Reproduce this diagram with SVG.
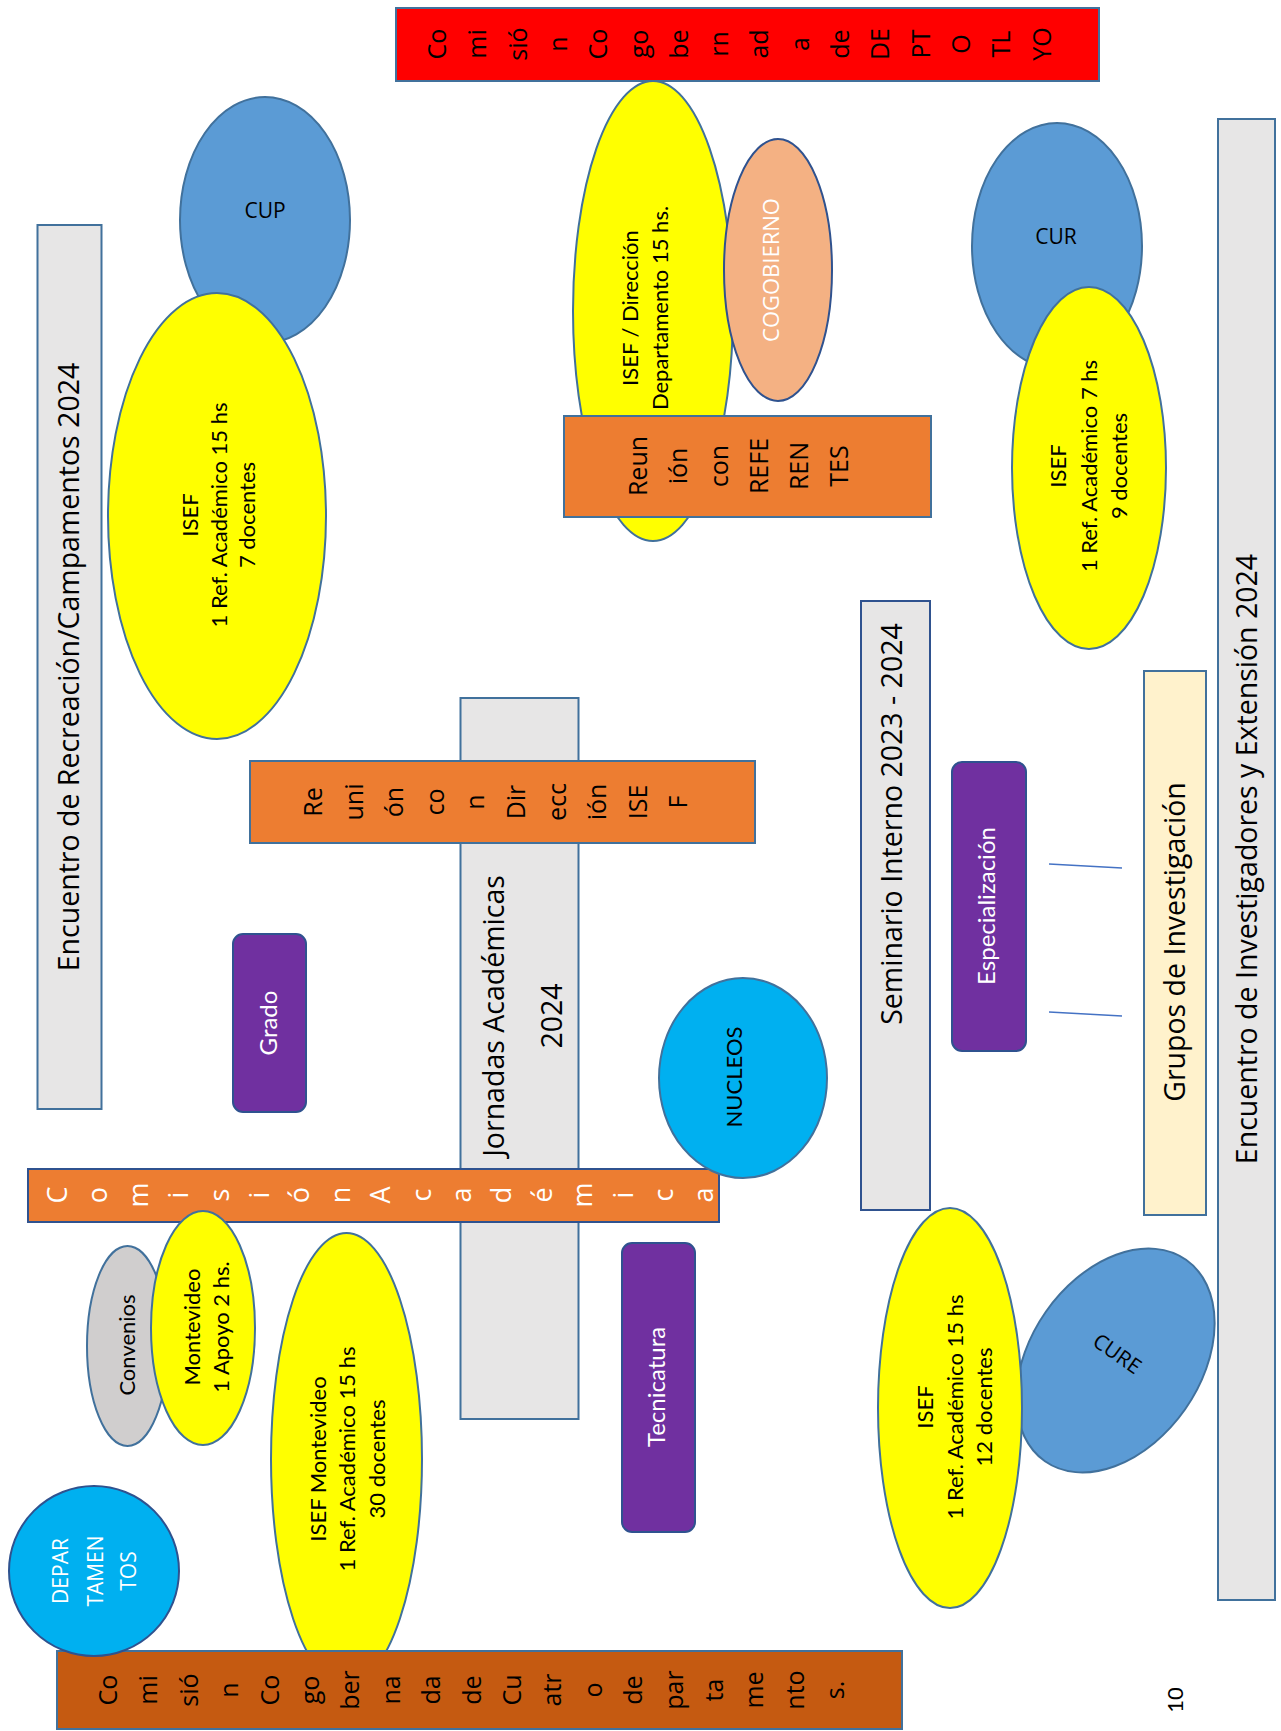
<svg xmlns="http://www.w3.org/2000/svg" width="1281" height="1731" viewBox="0 0 1281 1731">
<style>
text{text-anchor:middle}
.os{font-family:"Open Sans","DejaVu Sans",sans-serif}
.la{font-family:Lato,"Open Sans",sans-serif}
.big{font-size:28.5px;fill:#000}
.s{stroke:#41719C;stroke-width:2}
.d{stroke:#2F528F;stroke-width:2}
.grey{fill:#E7E6E6}
.blue{fill:#5B9BD5}
.yel{fill:#FFFF00}
.org{fill:#ED7D31}
.pur{fill:#7030A0}
.cyan{fill:#00B0F0}
.w{fill:#FFFFFF}
.k{fill:#000000}
.conn{stroke:#4472C4;stroke-width:1.5;fill:none}
</style>
<rect width="1281" height="1731" fill="#FFFFFF"/>

<g id="encuentro-recreacion">
<rect class="grey s" x="37.5" y="225" width="64" height="884"/>
<text class="os big" transform="rotate(-90)"><tspan x="-667" y="79">Encuentro de Recreación/Campamentos 2024</tspan></text>
</g>

<g id="cup">
<ellipse class="blue s" cx="265" cy="220" rx="85" ry="123"/>
<text class="os k" x="265" y="218" font-size="21">CUP</text>
</g>

<g id="isef-cup">
<ellipse class="yel s" cx="217" cy="516" rx="109" ry="223"/>
<text class="la k" font-size="22" transform="rotate(-90)"><tspan x="-515" y="197.5">ISEF</tspan><tspan x="-515" y="226.5">1 Ref. Académico 15 hs</tspan><tspan x="-515" y="254.5">7 docentes</tspan></text>
</g>

<g id="comision-depto">
<rect class="s" fill="#FF0000" x="396" y="8" width="703" height="73"/>
<text class="os k" font-size="25" transform="rotate(-90)"><tspan x="-44" y="446">Co</tspan><tspan x="-44" y="486.3">mi</tspan><tspan x="-44" y="526.6">sió</tspan><tspan x="-44" y="566.9">n</tspan><tspan x="-44" y="607.2">Co</tspan><tspan x="-44" y="647.5">go</tspan><tspan x="-44" y="687.8">be</tspan><tspan x="-44" y="728.1">rn</tspan><tspan x="-44" y="768.4">ad</tspan><tspan x="-44" y="808.7">a</tspan><tspan x="-44" y="849">de</tspan><tspan x="-44" y="889.3">DE</tspan><tspan x="-44" y="929.6">PT</tspan><tspan x="-44" y="969.9">O</tspan><tspan x="-44" y="1010.2">TL</tspan><tspan x="-44" y="1050.5">YO</tspan></text>
</g>

<g id="isef-direccion">
<ellipse class="yel s" cx="653" cy="311" rx="80" ry="230"/>
<text class="la k" font-size="22" transform="rotate(-90)"><tspan x="-308" y="637.5">ISEF / Dirección</tspan><tspan x="-308" y="667.5">Departamento 15 hs.</tspan></text>
</g>

<g id="cogobierno">
<ellipse class="d" fill="#F4B183" cx="778" cy="270" rx="54" ry="131"/>
<text class="os w" font-size="22" transform="rotate(-90)"><tspan x="-270" y="779">COGOBIERNO</tspan></text>
</g>

<g id="reunion-referentes">
<rect class="org s" x="564" y="416" width="367" height="101"/>
<text class="os k" font-size="25" transform="rotate(-90)"><tspan x="-466" y="647">Reun</tspan><tspan x="-466" y="687">ión</tspan><tspan x="-466" y="728">con</tspan><tspan x="-466" y="768">REFE</tspan><tspan x="-466" y="808">REN</tspan><tspan x="-466" y="848">TES</tspan></text>
</g>

<g id="cur">
<ellipse class="blue s" cx="1057" cy="246" rx="85" ry="123"/>
<text class="os k" x="1056" y="244" font-size="21">CUR</text>
</g>

<g id="isef-cur">
<ellipse class="yel s" cx="1089" cy="468" rx="77" ry="181"/>
<text class="la k" font-size="22" transform="rotate(-90)"><tspan x="-466" y="1065.5">ISEF</tspan><tspan x="-466" y="1096.5">1 Ref. Académico 7 hs</tspan><tspan x="-466" y="1126.5">9 docentes</tspan></text>
</g>

<g id="encuentro-investigadores">
<rect class="grey s" x="1218" y="119" width="57" height="1481"/>
<text class="os big" transform="rotate(-90)"><tspan x="-859" y="1257">Encuentro de Investigadores y Extensión 2024</tspan></text>
</g>

<g id="seminario">
<rect class="grey d" x="861" y="601" width="69" height="609"/>
<text class="os big" transform="rotate(-90)"><tspan x="-824" y="902">Seminario Interno 2023 - 2024</tspan></text>
</g>

<g id="grupos">
<rect class="s" fill="#FFF2CC" x="1144" y="671" width="62" height="544"/>
<text class="os big" transform="rotate(-90)"><tspan x="-942" y="1185">Grupos de Investigación</tspan></text>
</g>

<g id="jornadas">
<rect class="grey s" x="460.5" y="698" width="118" height="721"/>
<text class="os big" transform="rotate(-90)"><tspan x="-1016" y="504">Jornadas Académicas</tspan><tspan x="-1016" y="562">2024</tspan></text>
</g>

<g id="reunion-direccion">
<rect class="org s" x="250" y="761" width="505" height="82"/>
<text class="os k" font-size="25" transform="rotate(-90)"><tspan x="-802" y="322">Re</tspan><tspan x="-802" y="362.6">uni</tspan><tspan x="-802" y="403.2">ón</tspan><tspan x="-802" y="443.8">co</tspan><tspan x="-802" y="484.4">n</tspan><tspan x="-802" y="525">Dir</tspan><tspan x="-802" y="565.6">ecc</tspan><tspan x="-802" y="606.2">ión</tspan><tspan x="-802" y="646.8">ISE</tspan><tspan x="-802" y="687.4">F</tspan></text>
</g>

<g id="grado">
<rect class="pur d" x="233" y="934" width="73" height="178" rx="10"/>
<text class="la w" font-size="24" transform="rotate(-90)"><tspan x="-1023" y="277">Grado</tspan></text>
</g>

<g id="especializacion">
<rect class="pur d" x="952" y="762" width="74" height="289" rx="10"/>
<text class="la w" font-size="24" transform="rotate(-90)"><tspan x="-906" y="995">Especialización</tspan></text>
</g>

<g id="connectors">
<line class="conn" x1="1049" y1="864" x2="1122" y2="868"/>
<line class="conn" x1="1049" y1="1012" x2="1122" y2="1016"/>
</g>

<g id="comision-academica">
<rect class="org d" x="28" y="1169" width="691" height="53"/>
<text class="os w" font-size="27" transform="rotate(-90)"><tspan x="-1195" y="67">C</tspan><tspan x="-1195" y="107.4">o</tspan><tspan x="-1195" y="147.8">m</tspan><tspan x="-1195" y="188.2">i</tspan><tspan x="-1195" y="228.6">s</tspan><tspan x="-1195" y="269">i</tspan><tspan x="-1195" y="309.4">ó</tspan><tspan x="-1195" y="349.8">n</tspan><tspan x="-1195" y="390.2">A</tspan><tspan x="-1195" y="430.6">c</tspan><tspan x="-1195" y="471">a</tspan><tspan x="-1195" y="511.4">d</tspan><tspan x="-1195" y="551.8">é</tspan><tspan x="-1195" y="592.2">m</tspan><tspan x="-1195" y="632.6">i</tspan><tspan x="-1195" y="673">c</tspan><tspan x="-1195" y="713.4">a</tspan></text>
</g>

<g id="nucleos">
<ellipse class="cyan s" cx="743" cy="1078" rx="84" ry="100"/>
<text class="la k" font-size="22" transform="rotate(-90)"><tspan x="-1077" y="742">NUCLEOS</tspan></text>
</g>

<g id="convenios">
<ellipse class="s" fill="#D0CECE" cx="127.5" cy="1346" rx="40.5" ry="100"/>
<text class="la k" font-size="22" transform="rotate(-90)"><tspan x="-1345" y="134.5">Convenios</tspan></text>
</g>

<g id="montevideo">
<ellipse class="yel s" cx="203" cy="1328" rx="52" ry="117"/>
<text class="la k" font-size="22" transform="rotate(-90)"><tspan x="-1327" y="199.5">Montevideo</tspan><tspan x="-1327" y="228.5">1 Apoyo 2 hs.</tspan></text>
</g>

<g id="isef-montevideo">
<ellipse class="yel s" cx="346.5" cy="1459" rx="75.5" ry="226"/>
<text class="la k" font-size="22" transform="rotate(-90)"><tspan x="-1459" y="325.5">ISEF Montevideo</tspan><tspan x="-1459" y="354.5">1 Ref. Académico 15 hs</tspan><tspan x="-1459" y="384.5">30 docentes</tspan></text>
</g>

<g id="comision-cuatro">
<rect class="s" fill="#C55A11" x="57" y="1651" width="845" height="78"/>
<text class="os k" font-size="25" transform="rotate(-90)"><tspan x="-1690" y="117">Co</tspan><tspan x="-1690" y="157.4">mi</tspan><tspan x="-1690" y="197.8">sió</tspan><tspan x="-1690" y="238.2">n</tspan><tspan x="-1690" y="278.6">Co</tspan><tspan x="-1690" y="319">go</tspan><tspan x="-1690" y="359.4">ber</tspan><tspan x="-1690" y="399.8">na</tspan><tspan x="-1690" y="440.2">da</tspan><tspan x="-1690" y="480.6">de</tspan><tspan x="-1690" y="521">Cu</tspan><tspan x="-1690" y="561.4">atr</tspan><tspan x="-1690" y="601.8">o</tspan><tspan x="-1690" y="642.2">de</tspan><tspan x="-1690" y="682.6">par</tspan><tspan x="-1690" y="723">ta</tspan><tspan x="-1690" y="763.4">me</tspan><tspan x="-1690" y="803.8">nto</tspan><tspan x="-1690" y="844.2">s.</tspan></text>
</g>

<g id="departamentos">
<circle class="cyan d" cx="94" cy="1571" r="85"/>
<text class="os w" font-size="21" transform="rotate(-90)"><tspan x="-1571" y="67.5">DEPAR</tspan><tspan x="-1571" y="102.5">TAMEN</tspan><tspan x="-1571" y="135.5">TOS</tspan></text>
</g>

<g id="tecnicatura">
<rect class="pur d" x="622" y="1243" width="73" height="289" rx="10"/>
<text class="la w" font-size="24" transform="rotate(-90)"><tspan x="-1387" y="665">Tecnicatura</tspan></text>
</g>

<g id="cure">
<ellipse class="blue s" cx="0" cy="0" rx="85" ry="123" transform="translate(1115.5,1360.5) rotate(35)"/>
<text class="os k" font-size="21" transform="translate(1117,1354) rotate(35)" y="7">CURE</text>
</g>

<g id="isef-cure">
<ellipse class="yel s" cx="950" cy="1408" rx="72" ry="200"/>
<text class="la k" font-size="22" transform="rotate(-90)"><tspan x="-1407" y="932.5">ISEF</tspan><tspan x="-1407" y="962.5">1 Ref. Académico 15 hs</tspan><tspan x="-1407" y="991.5">12 docentes</tspan></text>
</g>

<g id="page-number">
<text class="la k" font-size="22" transform="rotate(-90)"><tspan x="-1700" y="1183">10</tspan></text>
</g>
</svg>
